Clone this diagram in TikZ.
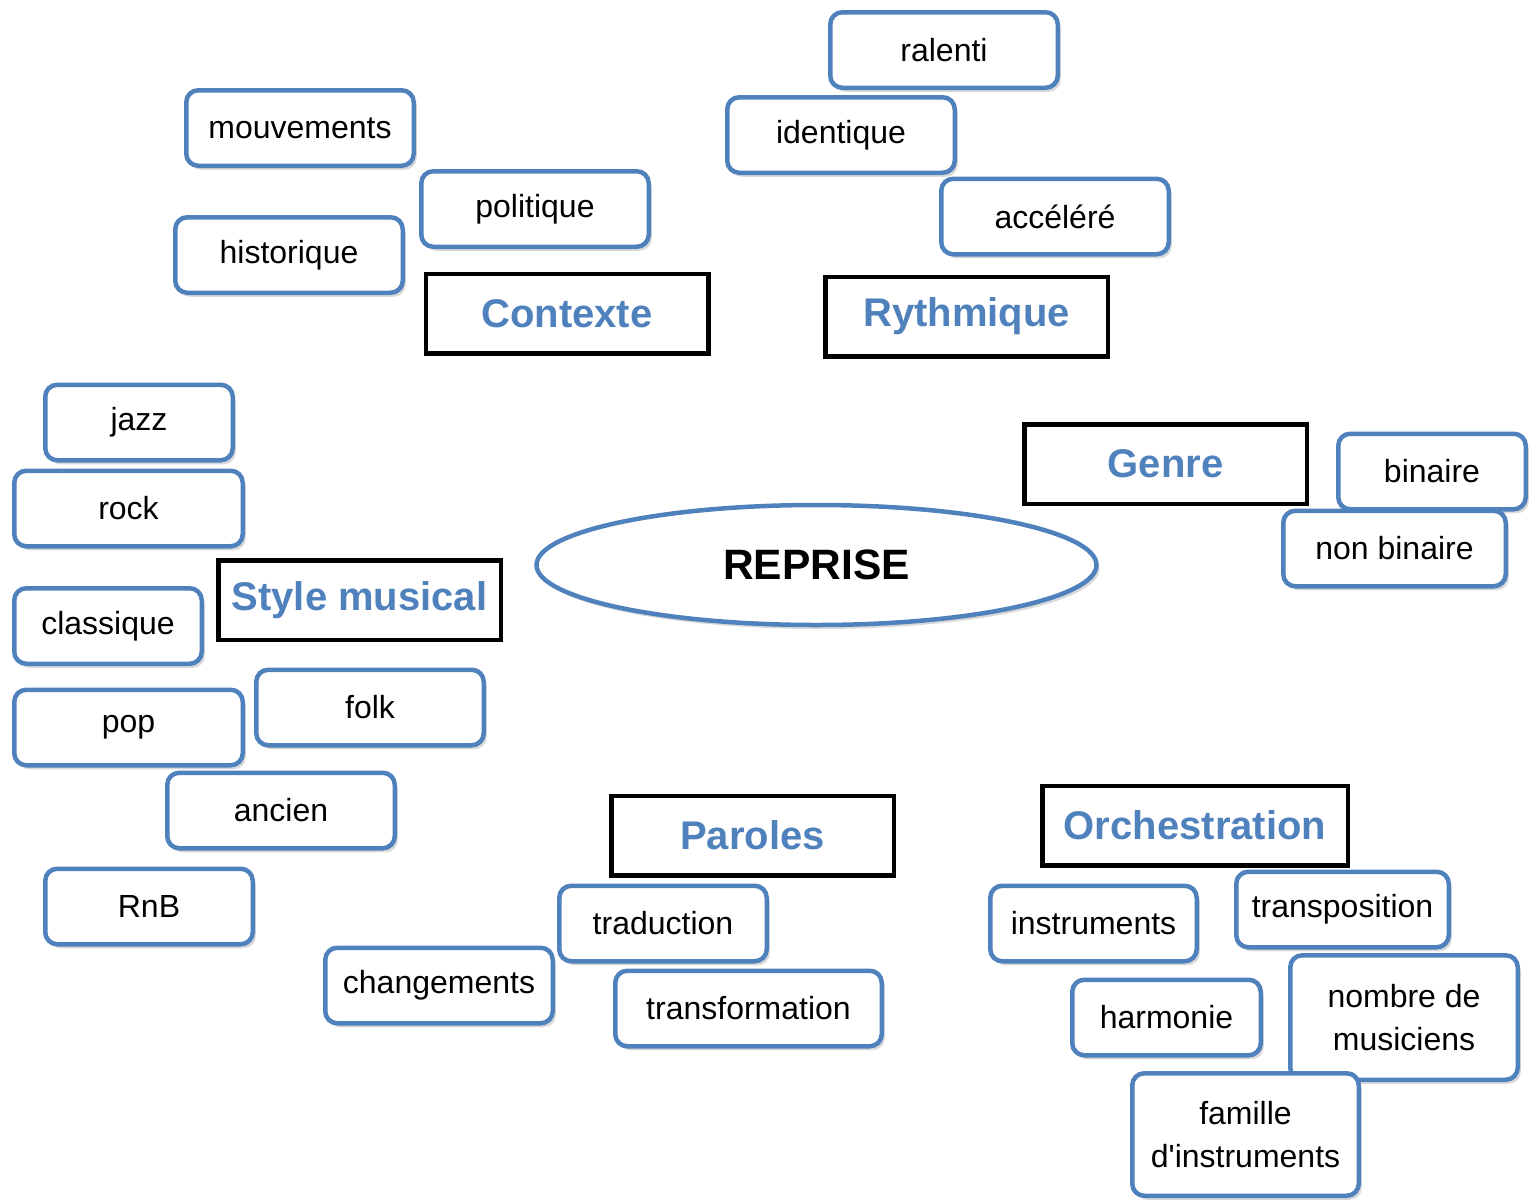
\documentclass[tikz,border=0pt]{standalone}
\usepackage{fontspec}
\setmainfont{Liberation Sans}[Ligatures=TeXOff]
\usetikzlibrary{shapes.geometric,shadows}
\definecolor{accent}{HTML}{4F81BD}
\tikzset{
  leaf/.style={draw=accent, line width=4.5pt, rounded corners=12pt, fill=white,
    inner sep=0pt, align=center, font=\fontsize{32}{43}\selectfont,
    drop shadow={opacity=0.3, shadow xshift=3pt, shadow yshift=-4pt}},
  cat/.style={draw=black, line width=4.5pt, fill=white, inner sep=0pt,
    text=accent, font=\fontsize{40}{48}\selectfont\bfseries},
  hub/.style={ellipse, draw=accent, line width=4.5pt, fill=white, inner sep=0pt,
    font=\fontsize{42.5}{50}\selectfont\bfseries,
    drop shadow={opacity=0.3, shadow xshift=3pt, shadow yshift=-4pt}}
}
\newcommand{\leafnode}[6]{% name, cx, cy, w, h, text
  \node[leaf, minimum width=#4pt-4.5pt, minimum height=#5pt-4.5pt] (#1) at (#2,#3) {#6};}
\newcommand{\catnode}[6]{%
  \node[cat, minimum width=#4pt-4.5pt, minimum height=#5pt-4.5pt] (#1) at (#2,#3) {#6};}
\begin{document}
\begin{tikzpicture}[x=1pt,y=-1pt]
\useasboundingbox (0,0) rectangle (1531,1200);
% Contexte group
\leafnode{mouv}{300}{128}{232}{80}{mouvements}
\leafnode{poli}{535}{209}{232}{80}{politique}
\leafnode{hist}{289}{255}{232}{80}{historique}
\catnode{ctx}{567}{313.5}{287}{84}{Contexte}
% Rythmique group
\leafnode{ral}{944}{50}{232}{80}{ralenti}
\leafnode{iden}{841}{135}{232}{80}{identique}
\leafnode{acc}{1055}{216.5}{232}{80}{accéléré}
\catnode{ryt}{966.5}{316.5}{287}{84}{Rythmique}
% Genre group
\catnode{gen}{1165.5}{464}{287}{84}{Genre}
\leafnode{bin}{1432}{471.5}{192}{80}{binaire}
\leafnode{nbin}{1394.5}{548.5}{227}{80}{non binaire}
% Hub
\node[hub, minimum width=560pt, minimum height=120pt] (rep) at (816.5,565) {REPRISE};
% Style musical group
\leafnode{jazz}{139}{422.5}{192}{80}{jazz}
\leafnode{rock}{128.5}{508.5}{233}{80}{rock}
\catnode{sty}{359.5}{600}{287}{84}{Style musical}
\leafnode{clas}{108}{626}{192}{80}{classique}
\leafnode{folk}{370}{707.5}{232}{80}{folk}
\leafnode{pop}{128.5}{727.5}{233}{80}{pop}
\leafnode{anc}{281}{810.5}{232}{80}{ancien}
\leafnode{rnb}{149}{906.5}{212}{80}{RnB}
% Paroles group
\catnode{par}{752.5}{835.5}{287}{84}{Paroles}
\leafnode{trad}{663}{923.5}{212}{80}{traduction}
\leafnode{chg}{439}{985.5}{232}{80}{changements}
\leafnode{trf}{748.5}{1008.5}{271}{80}{transformation}
% Orchestration group
\catnode{orc}{1195}{825.5}{310}{84}{Orchestration}
\leafnode{inst}{1093.5}{923.5}{211}{80}{instruments}
\leafnode{trp}{1342.5}{909.5}{217}{80}{transposition}
\leafnode{harm}{1166.5}{1017.5}{193}{80}{harmonie}
\leafnode{nomb}{1404}{1017.5}{232}{129}{nombre de\\musiciens}
\leafnode{fam}{1245.5}{1134.5}{231}{127}{famille\\d'instruments}
\end{tikzpicture}
\end{document}
